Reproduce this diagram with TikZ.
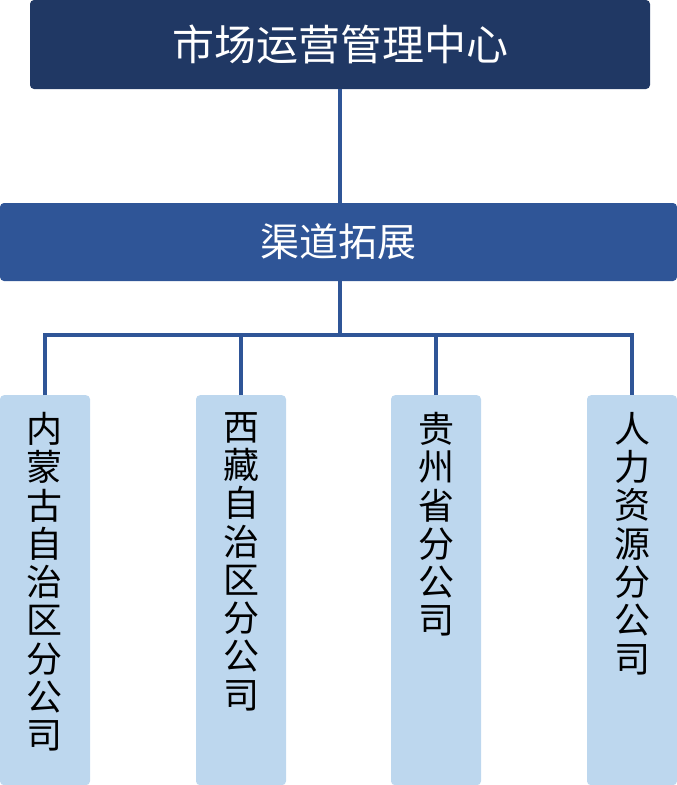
\documentclass[tikz,border=0pt]{standalone}
\usepackage{fontspec}
\newfontfamily\cjk{Noto Sans CJK SC}
\definecolor{navy}{HTML}{203864}
\definecolor{midblue}{HTML}{2F5597}
\definecolor{lightblue}{HTML}{BDD7EE}
\tikzset{
  boxbase/.style={rectangle, rounded corners=4pt, inner sep=0pt, font=\cjk},
  topbox/.style={boxbase, fill=navy, text=white, minimum width=620pt, minimum height=89pt, font=\cjk\fontsize{42pt}{45pt}\selectfont},
  midbox/.style={boxbase, fill=midblue, text=white, minimum width=677pt, minimum height=78pt, font=\cjk\fontsize{39pt}{42pt}\selectfont},
  leafbox/.style={boxbase, fill=lightblue, minimum width=90pt, minimum height=390pt, anchor=north},
  leaftext/.style={anchor=north, inner sep=0pt, align=center, text=black, font=\cjk\fontsize{36pt}{38.3pt}\selectfont},
  conn/.style={draw=midblue, line width=4pt}
}
\begin{document}
\begin{tikzpicture}[x=1pt,y=-1pt]
\useasboundingbox (0,0) rectangle (677,785);
\node[topbox] (top) at (340,44.5) {市场运营管理中心};
\node[midbox] (mid) at (338.5,242) {渠道拓展};
\node[leafbox] (b1) at (45,395) {};
\node[leafbox] (b2) at (241,395) {};
\node[leafbox] (b3) at (436,395) {};
\node[leafbox] (b4) at (632,395) {};
\node[leaftext] (t1) at (45,412) {内\\蒙\\古\\自\\治\\区\\分\\公\\司};
\node[leaftext] (t2) at (241,412) {西\\藏\\自\\治\\区\\分\\公\\司};
\node[leaftext] (t3) at (436,412) {贵\\州\\省\\分\\公\\司};
\node[leaftext] (t4) at (632,412) {人\\力\\资\\源\\分\\公\\司};
\coordinate (hub) at (340,335);
\draw[conn] (top.south -| hub) -- (mid.north -| hub);
\draw[conn] (mid.south -| hub) -- (hub);
\draw[conn] (b1.north) |- (hub) -| (b4.north);
\draw[conn] (b2.north) -- (b2.north |- hub);
\draw[conn] (b3.north) -- (b3.north |- hub);
\end{tikzpicture}
\end{document}
